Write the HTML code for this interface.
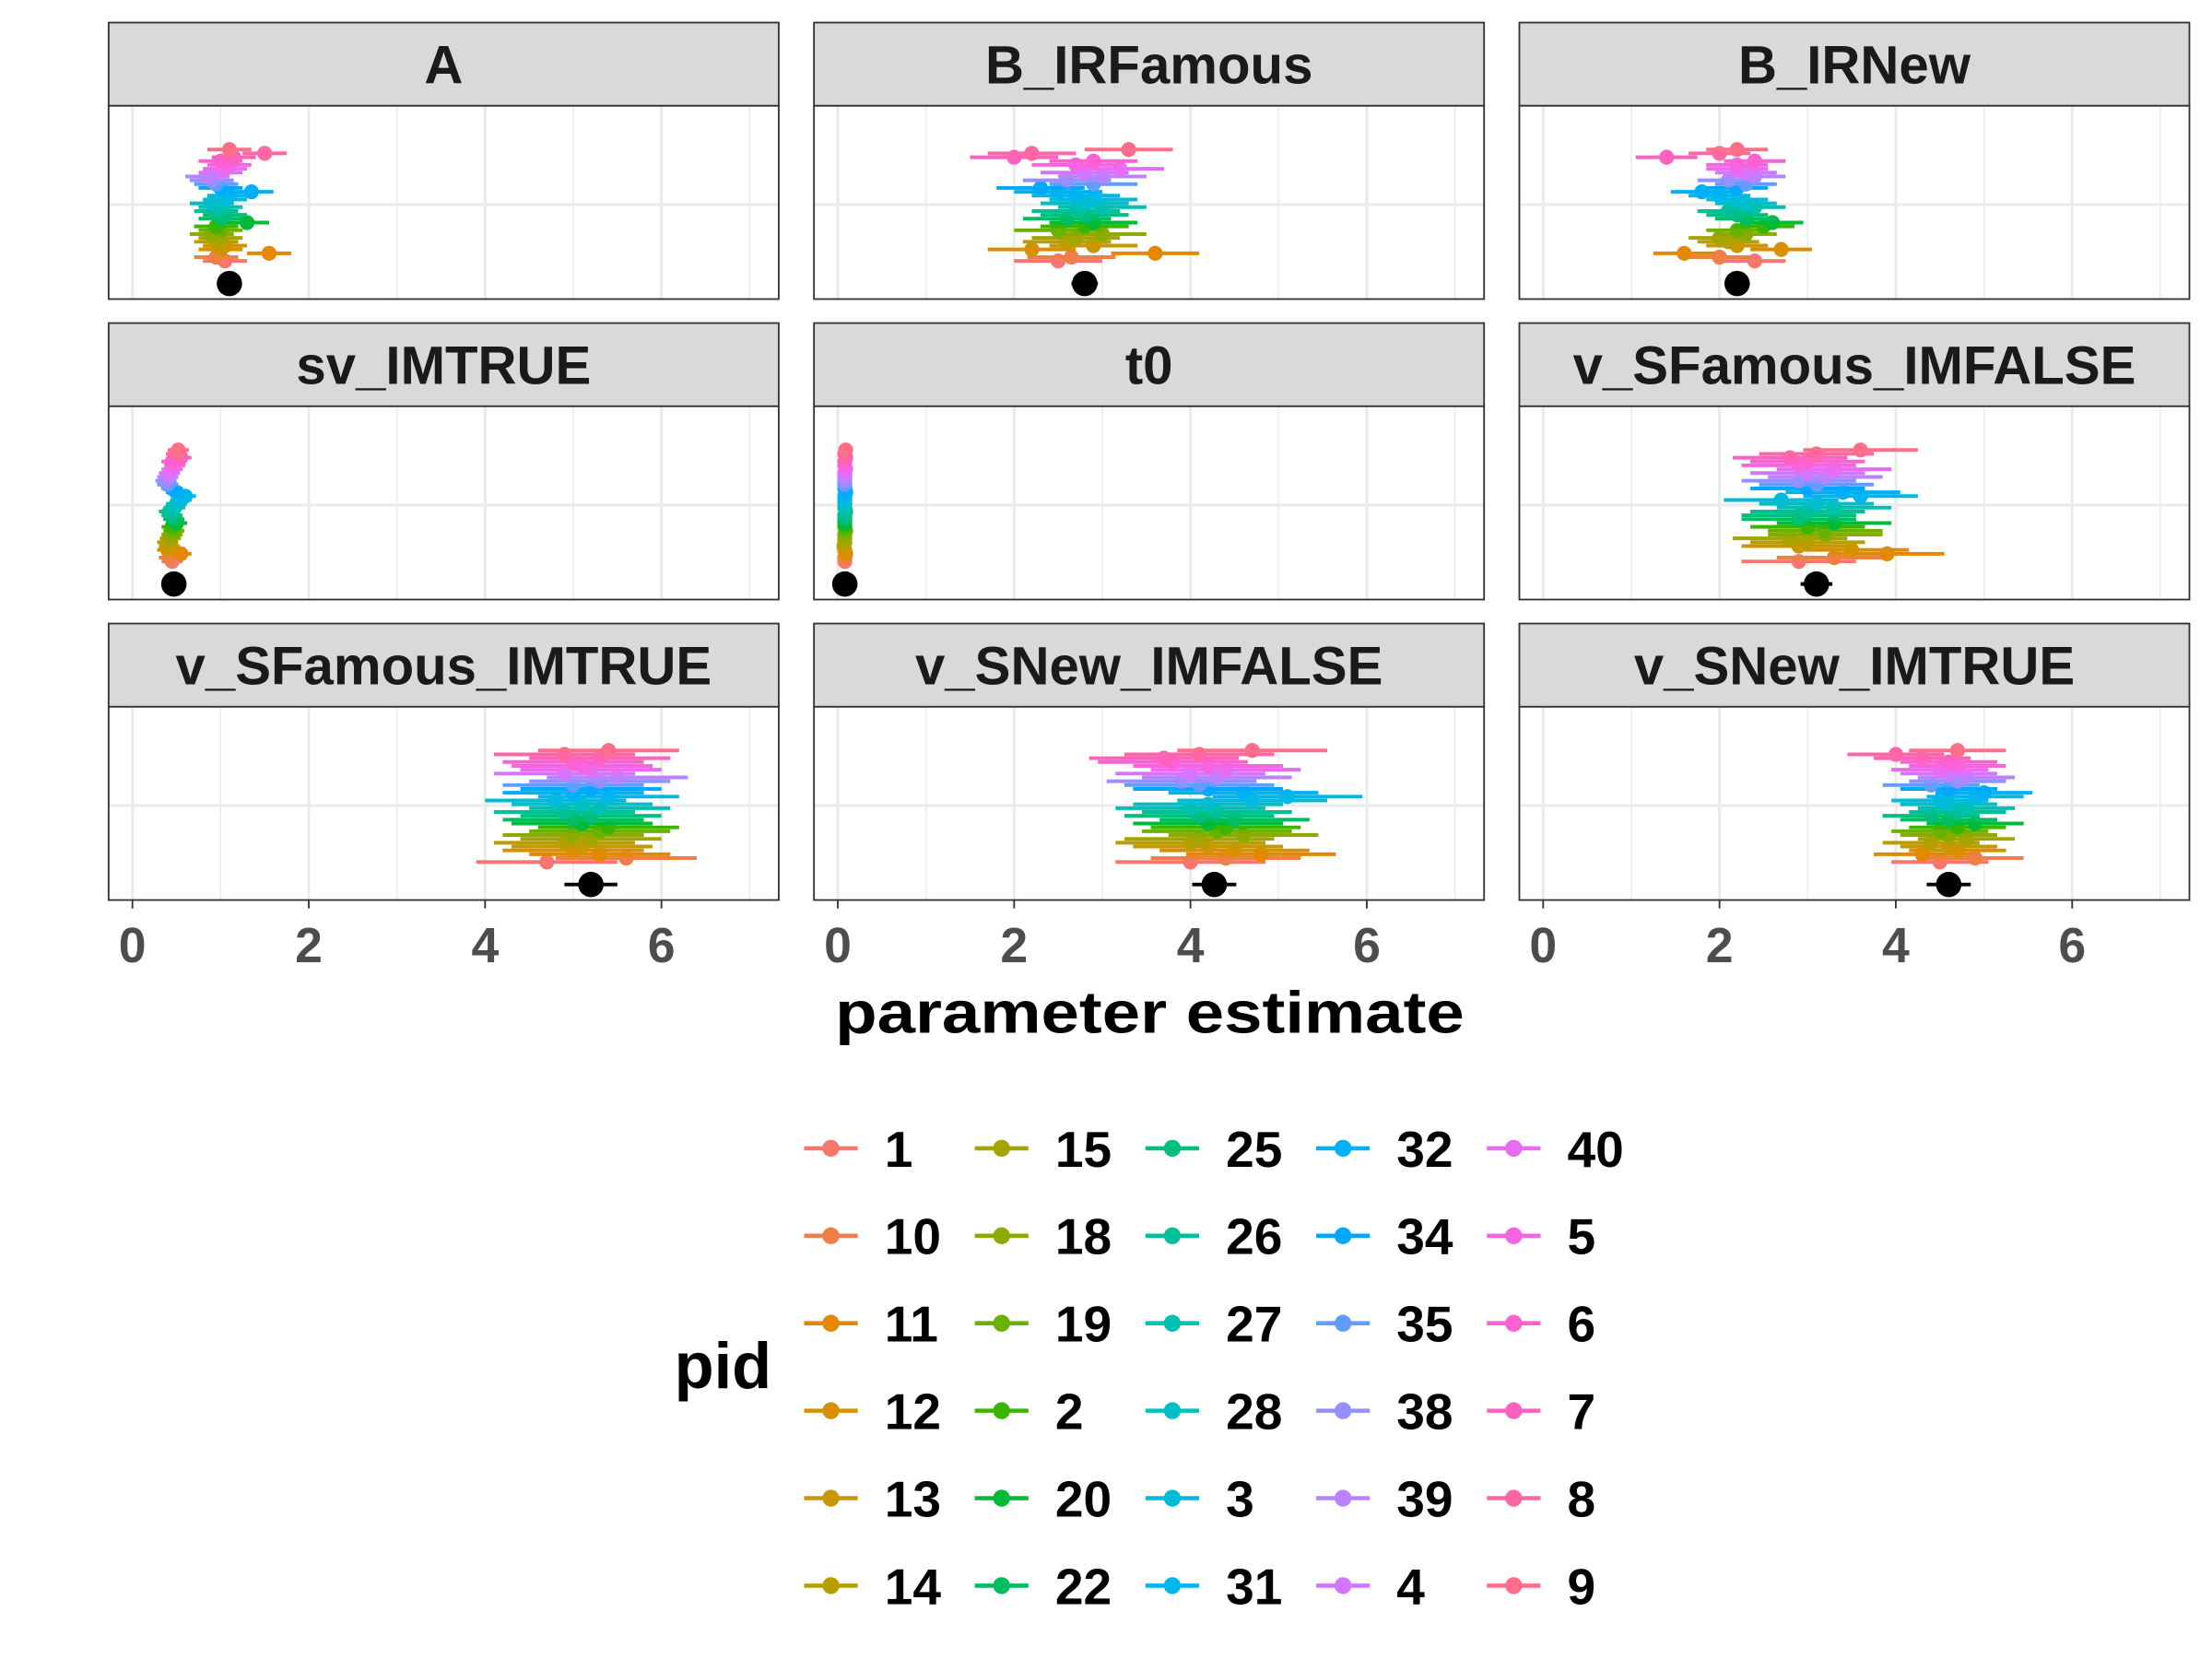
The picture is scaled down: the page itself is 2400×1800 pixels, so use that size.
<!DOCTYPE html>
<html><head><meta charset="utf-8">
<style>html,body{margin:0;padding:0;background:#fff;}svg{display:block;}
text{font-family:"Liberation Sans",sans-serif;font-weight:bold;}</style></head>
<body>
<svg id="chart" width="2400" height="1800" viewBox="0 0 1568 1176" xmlns="http://www.w3.org/2000/svg"></svg>
<script>
const pids=["1","10","11","12","13","14","15","18","19","2","20","22","25","26","27","28","3","31","32","34","35","38","39","4","40","5","6","7","8","9"];
const params=["A","B_IRFamous","B_IRNew","sv_IMTRUE","t0","v_SFamous_IMFALSE","v_SFamous_IMTRUE","v_SNew_IMFALSE","v_SNew_IMTRUE"];
const vA=[1.05,0.95,1.55,1.0,1.05,0.95,1.0,0.9,1.0,0.95,1.3,1.0,1.05,0.95,1.0,0.9,1.05,1.1,1.35,1.0,0.95,0.9,0.85,1.0,1.05,1.1,1.0,1.15,1.5,1.1];
const vBF=[2.5,2.65,3.6,2.2,2.9,2.6,2.7,3.0,2.5,2.8,2.9,2.6,2.8,2.7,3.0,2.8,2.9,2.7,2.5,2.3,2.9,2.6,3.0,2.8,3.2,2.7,2.9,2.0,2.2,3.3];
const vBN=[2.4,2.0,1.6,2.7,2.2,2.1,2.0,2.3,2.2,2.5,2.6,2.3,2.2,2.1,2.4,2.3,2.2,2.0,1.8,2.2,2.3,2.1,2.4,2.3,2.2,2.2,2.4,1.4,2.0,2.2];
const vSV=[0.45,0.42,0.55,0.4,0.42,0.4,0.43,0.45,0.47,0.45,0.5,0.47,0.45,0.42,0.48,0.5,0.55,0.6,0.5,0.45,0.4,0.38,0.4,0.42,0.45,0.48,0.45,0.55,0.5,0.52];
const vT0=[0.08,0.08,0.09,0.08,0.07,0.08,0.08,0.08,0.09,0.08,0.08,0.08,0.08,0.09,0.08,0.08,0.08,0.08,0.09,0.08,0.08,0.08,0.08,0.08,0.09,0.08,0.08,0.09,0.08,0.09];
const vSFF=[2.9,3.3,3.9,3.5,2.9,3.0,2.8,3.2,3.2,3.0,3.3,2.9,2.9,3.0,3.3,3.1,2.7,3.6,3.4,3.0,3.1,2.9,3.2,3.0,3.3,2.9,3.0,2.8,3.1,3.6];
const vSFT=[4.7,5.6,5.3,5.0,5.1,4.9,5.2,5.0,5.3,5.4,5.1,5.0,5.2,4.9,5.3,5.1,4.8,5.4,5.0,5.2,5.0,5.3,5.5,4.9,5.2,5.1,5.0,5.3,4.9,5.4];
const vSNF=[4.0,4.4,4.8,4.5,4.2,4.0,4.1,4.6,4.3,4.4,4.2,4.5,4.1,4.3,4.0,4.2,4.7,5.1,4.6,4.2,4.1,3.9,4.3,4.0,4.4,4.2,3.8,3.7,4.1,4.7];
const vSNT=[4.5,4.9,4.3,4.7,4.6,4.4,4.8,4.6,4.5,4.7,4.9,4.6,4.4,4.7,4.8,4.6,4.5,4.9,5.0,4.6,4.4,4.7,4.8,4.6,4.5,4.7,4.6,4.3,4.0,4.7];
const indiv=[vA,vBF,vBN,vSV,vT0,vSFF,vSFT,vSNF,vSNT];
const halfW=[0.25,0.5,0.35,0.12,0.03,0.65,0.8,0.85,0.55];
const groupMean=[1.1,2.8,2.2,0.47,0.08,3.1,5.2,4.27,4.6];
const groupHW=[0.08,0.15,0.1,0.05,0.02,0.18,0.3,0.25,0.25];
const xTicks=[0,2,4,6];

const NS="http://www.w3.org/2000/svg";
const svg=document.getElementById('chart');
function mk(tag,attrs,parent){const e=document.createElementNS(NS,tag);for(const k in attrs)e.setAttribute(k,attrs[k]);(parent||svg).appendChild(e);return e;}
function hcl(h,c,l){const Xn=95.047,Yn=100,Zn=108.883;const un=4*Xn/(Xn+15*Yn+3*Zn),vn=9*Yn/(Xn+15*Yn+3*Zn);
 const hr=h*Math.PI/180,u=c*Math.cos(hr),v=c*Math.sin(hr);const Y=Yn*Math.pow((l+16)/116,3);
 const up=u/(13*l)+un,vp=v/(13*l)+vn;const X=Y*9*up/(4*vp),Z=Y*(12-3*up-20*vp)/(4*vp);
 const x=X/100,y=Y/100,z=Z/100;let r=3.2404542*x-1.5371385*y-0.4985314*z,g=-0.9692660*x+1.8760108*y+0.0415560*z,b=0.0556434*x-0.2040259*y+1.0572252*z;
 const f=t=>{t=t<=0.0031308?12.92*t:1.055*Math.pow(t,1/2.4)-0.055;return Math.round(Math.max(0,Math.min(1,t))*255);};
 return `rgb(${f(r)},${f(g)},${f(b)})`;}
const cols=pids.map((p,i)=>hcl(15+360*i/pids.length,100,65));

const colX=[77,577,1077],rowY=[16,229,442],PW=475,SH=59,PH=137;
const xmin=-0.27,xmax=7.33;
function sx(px,v){return px+(v-xmin)/(xmax-xmin)*PW;}
params.forEach((p,k)=>{
 const c=k%3,r=Math.floor(k/3),px=colX[c],py=rowY[r];
 const g=mk('g',{});
 const st=mk('rect',{x:px,y:py,width:PW,height:SH,fill:'#d9d9d9',stroke:'#333','stroke-width':1.2},g);
 
 const tt=mk('text',{x:px+PW/2,y:py+43,'text-anchor':'middle','font-size':38,fill:'#1a1a1a'},g);tt.textContent=p;
 
 const top=py+SH;
 mk('rect',{x:px,y:top,width:PW,height:PH,fill:'#fff'},g);
 for(let t=0;t<=7;t++){const x=sx(px,t);mk('line',{x1:x,x2:x,y1:top,y2:top+PH,stroke:'#ebebeb','stroke-width':t%2?1:2},g);}
 mk('line',{x1:px,x2:px+PW,y1:top+70,y2:top+70,stroke:'#ebebeb','stroke-width':2},g);
 const vals=indiv[k];
 vals.forEach((v,i)=>{
  const y=top+110-i*(79/(vals.length-1));
  const l=mk('line',{x1:sx(px,v-halfW[k]),x2:sx(px,v+halfW[k]),y1:y,y2:y,stroke:cols[i],'stroke-width':2.6},g);
  
  const d=mk('circle',{cx:sx(px,v),cy:y,r:5.3,fill:cols[i]},g);
  
 });
 const gy=top+126;
 const gl=mk('line',{x1:sx(px,groupMean[k]-groupHW[k]),x2:sx(px,groupMean[k]+groupHW[k]),y1:gy,y2:gy,stroke:'#000','stroke-width':2.6},g);
 
 const gp=mk('circle',{cx:sx(px,groupMean[k]),cy:gy,r:9,fill:'#000'},g);
 
 mk('rect',{x:px,y:top,width:PW,height:PH,fill:'none',stroke:'#333','stroke-width':1.2},g);
 if(r===2){xTicks.forEach(t=>{const x=sx(px,t);mk('line',{x1:x,x2:x,y1:top+PH,y2:top+PH+6,stroke:'#333','stroke-width':1.2},g);
   const tl=mk('text',{x:x,y:top+PH+44,'text-anchor':'middle','font-size':35,fill:'#4d4d4d'},g);tl.textContent=t;
   });}
});
const xt=mk('text',{x:815,y:732,'text-anchor':'middle','font-size':42,fill:'#000',textLength:446,lengthAdjust:'spacingAndGlyphs'});
xt.textContent='parameter estimate';
const lg=mk('g',{});
const lt=mk('text',{x:478,y:984,'font-size':46,fill:'#000'},lg);lt.textContent='pid';

pids.forEach((p,i)=>{
 const c=Math.floor(i/6),r=i%6,kx=570+c*121,ky=814+r*62;
 const e=mk('g',{},lg);
 mk('line',{x1:kx,x2:kx+38,y1:ky,y2:ky,stroke:cols[i],'stroke-width':3},e);
 mk('circle',{cx:kx+19,cy:ky,r:6,fill:cols[i]},e);
 const t=mk('text',{x:kx+57,y:ky+13,'font-size':36,fill:'#000'},e);t.textContent=p;
});
</script>
</body></html>
